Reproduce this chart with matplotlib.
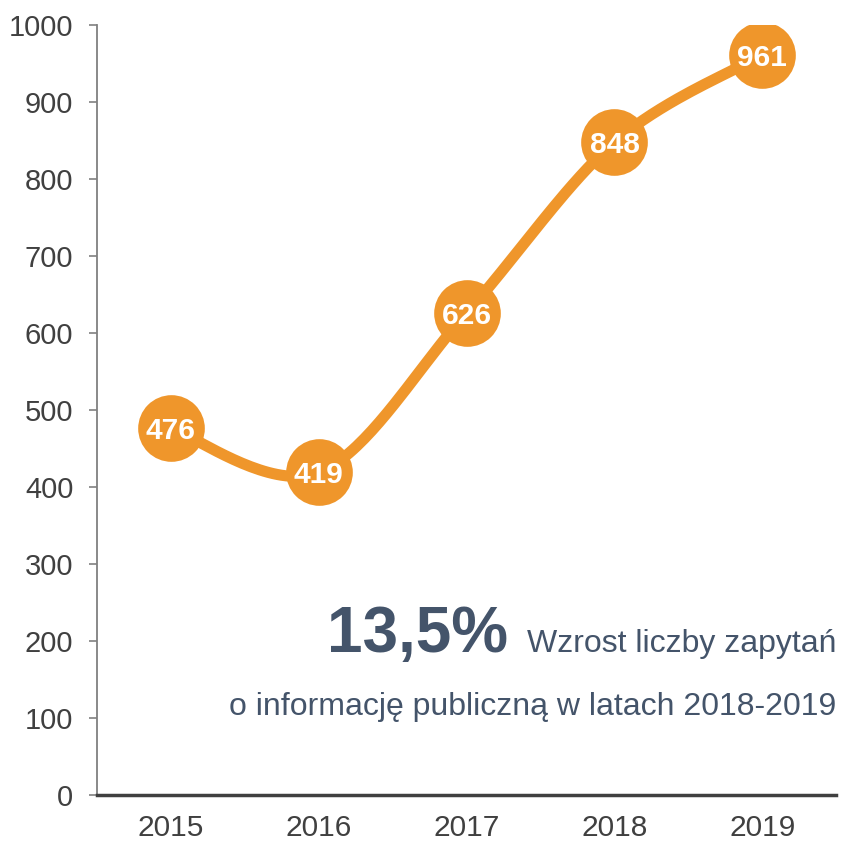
import numpy as np
import matplotlib
matplotlib.use("Agg")
import matplotlib.pyplot as plt

# data
years = ["2015", "2016", "2017", "2018", "2019"]
values = [476, 419, 626, 848, 961]
y_ticks = [0, 100, 200, 300, 400, 500, 600, 700, 800, 900, 1000]
big_label = "13,5%"
line1 = "Wzrost liczby zapytań"
line2 = "o informację publiczną w latach 2018-2019"

orange = "#EF962B"
text_col = "#44546A"
tick_col = "#404040"

plt.rcParams["font.family"] = ["Liberation Sans", "DejaVu Sans"]

fig = plt.figure(figsize=(8.43, 8.46), dpi=100)
ax = fig.add_axes([0.115, 0.0603, 0.877, 0.9101])

# smoothed line (Catmull-Rom through the points, like Excel smoothing)
x = np.arange(len(values), dtype=float)
y = np.array(values, dtype=float)
px = np.concatenate([[x[0]], x, [x[-1]]])
py = np.concatenate([[y[0]], y, [y[-1]]])
sx, sy = [], []
t = np.linspace(0, 1, 40)
for i in range(1, len(px) - 2):
    p0, p1, p2, p3 = (np.array([px[j], py[j]]) for j in range(i - 1, i + 3))
    c1 = p1 + (p2 - p0) / 6
    c2 = p2 - (p3 - p1) / 6
    for tt in t:
        b = ((1 - tt) ** 3) * p1 + 3 * ((1 - tt) ** 2) * tt * c1 + 3 * (1 - tt) * tt ** 2 * c2 + tt ** 3 * p2
        sx.append(b[0])
        sy.append(b[1])
ax.plot(sx, sy, color=orange, lw=8, solid_capstyle="round", zorder=2)
ax.plot(x, y, "o", ms=48, color=orange, mec="none", zorder=3)
for xi, v in zip(x, values):
    ax.text(xi, v, str(v), color="white", fontsize=21.5, fontweight="bold",
            ha="center", va="center_baseline", zorder=4)

ax.set_xlim(-0.5, len(years) - 0.5)
ax.set_ylim(0, 1000)
ax.set_xticks(x)
ax.set_xticklabels(years)
ax.set_yticks(y_ticks)
ax.tick_params(axis="x", length=0, pad=14, labelsize=21.5, labelcolor=tick_col)
ax.tick_params(axis="y", length=6, width=1.2, color="#808080", pad=11,
               labelsize=21, labelcolor=tick_col)

for s in ["top", "right"]:
    ax.spines[s].set_visible(False)
ax.spines["left"].set_color("#808080")
ax.spines["left"].set_linewidth(1.3)
ax.spines["bottom"].set_color("#404040")
ax.spines["bottom"].set_linewidth(2.5)

# annotation text
ax.text(1.0, 0.186, line1, transform=ax.transAxes, ha="right", va="baseline",
        fontsize=23, color=text_col)
ax.text(0.556, 0.186, big_label, transform=ax.transAxes, ha="right", va="baseline",
        fontsize=46, fontweight="bold", color=text_col)
ax.text(1.0, 0.104, line2, transform=ax.transAxes, ha="right", va="baseline",
        fontsize=23, color=text_col)

fig.savefig("out.png", dpi=100)
